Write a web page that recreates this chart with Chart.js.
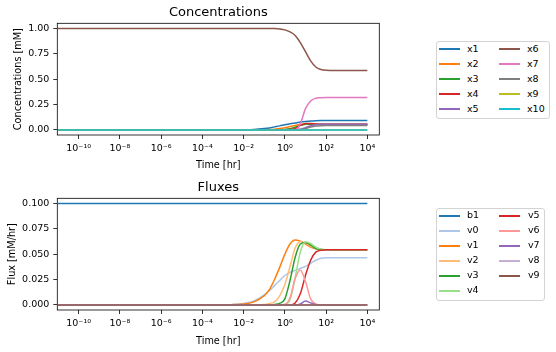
<!DOCTYPE html>
<html><head><meta charset="utf-8">
<script src="https://cdn.jsdelivr.net/npm/chart.js@4"></script>
<style>
body{margin:0;background:#fff;}
#wrap{position:relative;width:556px;height:352px;overflow:hidden;font-family:'DejaVu Sans',sans-serif;background:#fff;}
canvas{position:absolute;left:0;}
.leg{position:absolute;border:1px solid #d3d3d3;border-radius:3px;background:#fff;box-sizing:border-box;}
.sw{position:absolute;height:2px;width:21px;}
.lb{position:absolute;font-size:9.5px;line-height:12px;color:#000;white-space:nowrap;}
</style></head><body>
<div id="wrap">
<canvas id="c1" width="556" height="176" style="top:0"></canvas>
<canvas id="c2" width="556" height="176" style="top:176px"></canvas>
</div>
<script>
// ---- data ----
const logTimes = [-11, -3, -2.5, -2, -1.5, -1, -0.75, -0.5, -0.25, 0, 0.25, 0.5, 0.75, 1, 1.25, 1.5, 1.75, 2, 2.5, 3, 4];
const xTickExponents = [-10, -8, -6, -4, -2, 0, 2, 4];

const concNames = ['x1','x2','x3','x4','x5','x6','x7','x8','x9','x10'];
const x1  = [0,0,0,0.001,0.004,0.013,0.02,0.03,0.04,0.051,0.061,0.069,0.077,0.083,0.088,0.091,0.092,0.092,0.092,0.092,0.092];
const x2  = [0,0,0,0,0,0.001,0.003,0.007,0.013,0.022,0.033,0.044,0.053,0.057,0.057,0.055,0.054,0.054,0.054,0.054,0.054];
const x3  = [0,0,0,0,0,0,0,0.001,0.002,0.005,0.012,0.027,0.045,0.055,0.057,0.055,0.054,0.054,0.054,0.054,0.054];
const x4  = [0,0,0,0,0,0,0,0,0,0.001,0.003,0.015,0.045,0.063,0.064,0.059,0.056,0.055,0.055,0.055,0.055];
const x5  = [0,0,0,0,0,0,0,0,0,0,0,0.001,0.006,0.022,0.042,0.052,0.055,0.055,0.055,0.055,0.055];
const x6  = [1,1,1,1,1,1,0.999,0.998,0.994,0.985,0.965,0.93,0.86,0.77,0.68,0.62,0.595,0.587,0.585,0.585,0.585];
const x7  = [0,0,0,0,0,0,0,0,0,0,0,0.001,0.06,0.21,0.285,0.312,0.318,0.32,0.32,0.32,0.32];
const x8  = [0,0,0,0,0,0,0,0,0,0,0,0,0.003,0.012,0.028,0.038,0.042,0.043,0.043,0.043,0.043];
const x9  = [0,0,0,0,0,0,0,0,0,0,0,0,0,0,0,0,0,0,0,0,0];
const x10 = [0,0,0,0,0,0,0,0,0,0,0,0,0,0,0,0,0,0,0,0,0];
const concSeries = [x1,x2,x3,x4,x5,x6,x7,x8,x9,x10];
const concTicks = [0, 0.25, 0.5, 0.75, 1.0];

const fluxNames = ['b1','v0','v1','v2','v3','v4','v5','v6','v7','v8','v9'];
const b1 = [0.1,0.1,0.1,0.1,0.1,0.1,0.1,0.1,0.1,0.1,0.1,0.1,0.1,0.1,0.1,0.1,0.1,0.1,0.1,0.1,0.1];
const v0 = [0,0,0.0005,0.0015,0.004,0.01,0.014,0.019,0.024,0.029,0.032,0.034,0.036,0.038,0.041,0.044,0.046,0.0465,0.0465,0.0465,0.0465];
const v1 = [0,0,0.0003,0.0008,0.003,0.009,0.015,0.025,0.037,0.05,0.06,0.064,0.0628,0.06,0.057,0.0553,0.0545,0.0543,0.0543,0.0543,0.0543];
const v2 = [0,0,0,0,0,0.0005,0.0015,0.003,0.009,0.02,0.038,0.056,0.0625,0.061,0.058,0.0555,0.0545,0.0543,0.0543,0.0543,0.0543];
const v3 = [0,0,0,0,0,0,0,0.0005,0.0015,0.006,0.024,0.047,0.06,0.0615,0.059,0.0555,0.0545,0.0543,0.0543,0.0543,0.0543];
const v4 = [0,0,0,0,0,0,0,0,0,0.0005,0.005,0.027,0.052,0.0623,0.0605,0.057,0.055,0.0543,0.0543,0.0543,0.0543];
const v5 = [0,0,0,0,0,0,0,0,0,0,0,0.002,0.011,0.029,0.044,0.052,0.0538,0.0543,0.0543,0.0543,0.0543];
const v6 = [0,0,0,0,0,0,0,0,0,0.0005,0.007,0.026,0.0345,0.023,0.006,0.001,0,0,0,0,0];
const v7 = [0,0,0,0,0,0,0,0,0,0,0,0,0.001,0.0038,0.002,0.0003,0,0,0,0,0];
const v8 = [0,0,0,0,0,0,0,0,0,0,0,0,0,0,0,0,0,0,0,0,0];
const v9 = [0,0,0,0,0,0,0,0,0,0,0,0,0,0,0,0,0,0,0,0,0];
const fluxSeries = [b1,v0,v1,v2,v3,v4,v5,v6,v7,v8,v9];
const fluxTicks = [0, 0.025, 0.05, 0.075, 0.1];

// ---- styles ----
const tab10 = ['#1f77b4','#ff7f0e','#2ca02c','#d62728','#9467bd','#8c564b','#e377c2','#7f7f7f','#bcbd22','#17becf'];
const tab20 = ['#1f77b4','#aec7e8','#ff7f0e','#ffbb78','#2ca02c','#98df8a','#d62728','#ff9896','#9467bd','#c5b0d5','#8c564b'];
const FONT = "'DejaVu Sans', sans-serif";

const times = logTimes.map(v => Math.pow(10, v));
const sup = {'-':'\u207B','0':'\u2070','1':'\u00B9','2':'\u00B2','3':'\u00B3','4':'\u2074','5':'\u2075','6':'\u2076','7':'\u2077','8':'\u2078','9':'\u2079'};
const toSup = s => String(s).split('').map(c => sup[c]).join('');

const frame = {
  id: 'frame',
  afterDraw(chart) {
    const {ctx, chartArea: a} = chart;
    ctx.save();
    ctx.strokeStyle = '#000';
    ctx.lineWidth = 0.8;
    ctx.strokeRect(a.left, a.top, a.right - a.left, a.bottom - a.top);
    ctx.restore();
  }
};

function makeChart(id, names, series, colors, yTicks, yMin, yMax, dec, title, yTitle, o) {
  const n = names.length;
  const datasets = names.map((nm, i) => ({
    label: nm,
    data: times.map((t, k) => ({x: t, y: series[i][k]})),
    borderColor: colors[i],
    backgroundColor: colors[i],
    borderWidth: 1.5,
    pointRadius: 0,
    fill: false,
    cubicInterpolationMode: 'monotone',
    order: n - i
  }));
  return new Chart(document.getElementById(id), {
    type: 'line',
    data: {datasets},
    plugins: [frame],
    options: {
      responsive: false,
      animation: false,
      devicePixelRatio: 1,
      layout: {padding: {left: 0, top: 0, right: 176.7, bottom: 0}},
      plugins: {
        legend: {display: false},
        tooltip: {enabled: false},
        title: {
          display: true, text: title, fullSize: false, color: '#000',
          font: {family: FONT, size: 13, weight: 'normal', lineHeight: 1.2},
          padding: {top: o.titleTop, bottom: 2.7}
        }
      },
      scales: {
        x: {
          type: 'logarithmic',
          min: Math.pow(10, -11.035), max: Math.pow(10, 4.58),
          afterBuildTicks: s => { s.ticks = xTickExponents.map(e => ({value: Math.pow(10, e)})); },
          afterFit: s => { s.height = o.xHeight; },
          border: {display: false},
          grid: {drawOnChartArea: false, drawTicks: true, tickLength: 4, color: '#000', lineWidth: 0.8},
          ticks: {
            autoSkip: false, maxRotation: 0, minRotation: 0, padding: 4, color: '#000',
            font: {family: FONT, size: 9.5},
            callback: v => '10' + toSup(Math.round(Math.log10(v)))
          },
          title: {display: true, text: 'Time [hr]', color: '#000', font: {family: FONT, size: 9.7}, padding: {top: 0, bottom: 5}}
        },
        y: {
          type: 'linear', min: yMin, max: yMax,
          afterBuildTicks: s => { s.ticks = yTicks.map(v => ({value: v})); },
          afterFit: s => { s.width = 57.3; },
          border: {display: false},
          grid: {drawOnChartArea: false, drawTicks: true, tickLength: 4, color: '#000', lineWidth: 0.8},
          ticks: {
            autoSkip: false, padding: 4, color: '#000',
            font: {family: FONT, size: 9.5},
            callback: v => Number(v).toFixed(dec)
          },
          title: {display: true, text: yTitle, color: '#000', font: {family: FONT, size: 9.7}, padding: {top: o.yTitlePad, bottom: 0}}
        }
      }
    }
  });
}

makeChart('c1', concNames, concSeries, tab10, concTicks, -0.05, 1.05, 2, 'Concentrations', 'Concentrations [mM]', {titleTop: 5, xHeight: 41, yTitlePad: 12.3});
makeChart('c2', fluxNames, fluxSeries, tab20, fluxTicks, -0.005, 0.105, 3, 'Fluxes', 'Flux [mM/hr]', {titleTop: 4, xHeight: 42, yTitlePad: 7});

// ---- legends (HTML) ----
const wrap = document.getElementById('wrap');
function legend(names, colors, box, rowsPerCol, firstRowY, colLineX, colTextX) {
  const b = document.createElement('div');
  b.className = 'leg';
  Object.assign(b.style, {left: box[0] + 'px', top: box[1] + 'px', width: box[2] + 'px', height: box[3] + 'px'});
  wrap.appendChild(b);
  names.forEach((nm, i) => {
    const c = Math.floor(i / rowsPerCol), r = i % rowsPerCol;
    const y = firstRowY + 15 * r;
    const sw = document.createElement('div');
    sw.className = 'sw';
    Object.assign(sw.style, {left: colLineX[c] + 'px', top: (y - 1) + 'px', background: colors[i]});
    wrap.appendChild(sw);
    const lb = document.createElement('div');
    lb.className = 'lb';
    lb.textContent = nm;
    Object.assign(lb.style, {left: colTextX[c] + 'px', top: (y - 6.5) + 'px'});
    wrap.appendChild(lb);
  });
}
legend(concNames, tab10, [435.5, 40.5, 114.5, 78], 5, 49, [438.5, 498.5], [467, 527]);
legend(fluxNames, tab20, [435.5, 208, 109, 93], 6, 215.7, [438.5, 499], [467, 528]);
</script>
</body></html>
